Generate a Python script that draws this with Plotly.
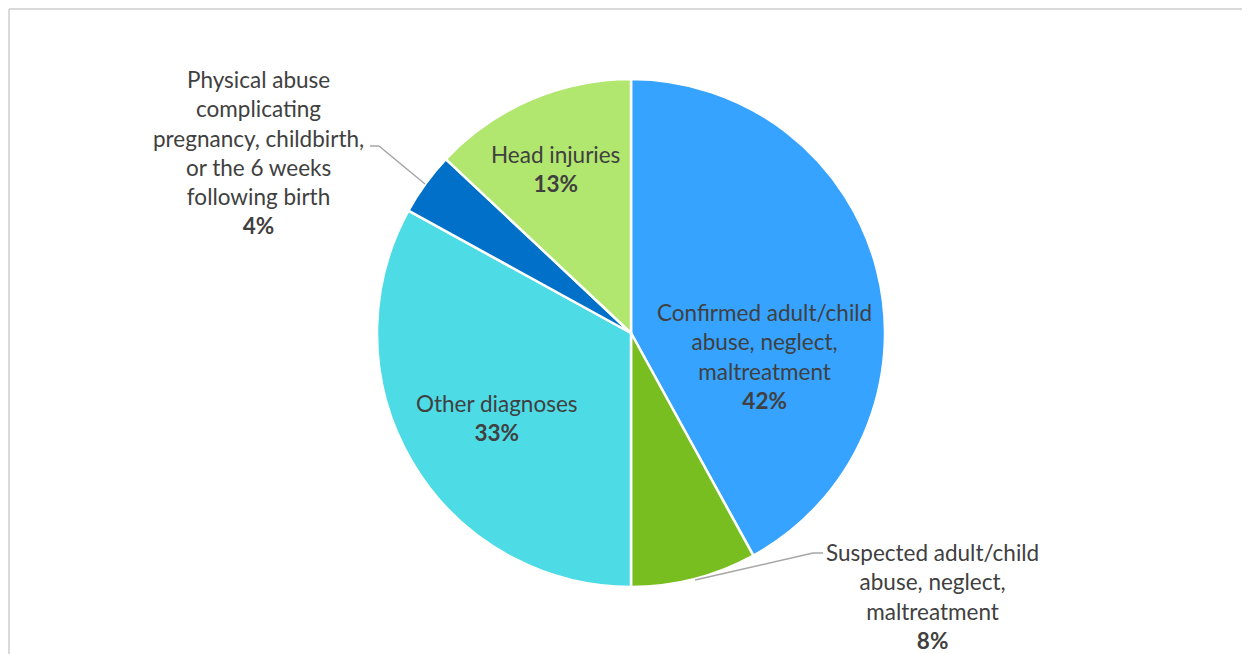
import plotly.graph_objects as go

OFF = 8  # page body margin offset
W, H = 1250 - OFF, 654 - OFF

categories = [
    "Confirmed adult/child<br>abuse, neglect,<br>maltreatment",
    "Suspected adult/child<br>abuse, neglect,<br>maltreatment",
    "Other diagnoses",
    "Physical abuse<br>complicating<br>pregnancy, childbirth,<br>or the 6 weeks<br>following birth",
    "Head injuries",
]
values = [42, 8, 33, 4, 13]
pct_labels = ["42%", "8%", "33%", "4%", "13%"]
colors = ["#35A3FF", "#78BE20", "#4DDBE5", "#0070C9", "#B1E66F"]

# label anchor positions in screen pixels (text block centres)
label_pos = [(764, 356), (932, 596), (497, 418), (258, 152), (555, 169)]

FONT = "Lato"
TXT = "#404040"

# pie placement (figure pixels)
cx, cy, r = 631 - OFF, 333 - OFF, 254

def px(x):
    return (x - OFF) / W

def py(y):
    return 1 - (y - OFF) / H

fig = go.Figure()
fig.add_trace(go.Pie(
    labels=[c.replace("<br>", " ") for c in categories],
    values=values,
    sort=False,
    direction="clockwise",
    rotation=0,
    marker=dict(colors=colors, line=dict(color="white", width=2.5)),
    textinfo="none",
    hoverinfo="label+percent",
    showlegend=False,
    domain=dict(x=[(cx - r) / W, (cx + r) / W], y=[1 - (cy + r) / H, 1 - (cy - r) / H]),
))

annotations = []
for cat, pct, (lx, ly) in zip(categories, pct_labels, label_pos):
    annotations.append(dict(
        x=px(lx), y=py(ly), xref="paper", yref="paper",
        text=f"{cat}<br><b>{pct}</b>", showarrow=False,
        xanchor="center", yanchor="middle", align="center",
        font=dict(family=FONT, size=22.5, color=TXT),
    ))

def seg(x0, y0, x1, y1, color="#A6A6A6", width=1.5):
    return dict(type="line", xref="paper", yref="paper",
                x0=px(x0), y0=py(y0), x1=px(x1), y1=py(y1),
                line=dict(color=color, width=width))

shapes = [
    # leader lines
    seg(370, 146, 379, 146), seg(379, 146, 425, 184),
    seg(823, 553, 813, 553), seg(813, 553, 695, 580),
    # frame
    seg(9, 9, 1260, 9, color="#D9D9D9", width=2),
    seg(9, 9, 9, 700, color="#D9D9D9", width=2),
]

fig.update_layout(
    width=W, height=H,
    margin=dict(l=0, r=0, t=0, b=0),
    paper_bgcolor="white", plot_bgcolor="white",
    annotations=annotations, shapes=shapes,
    font=dict(family=FONT, color=TXT),
)

fig.write_html("out.html")
